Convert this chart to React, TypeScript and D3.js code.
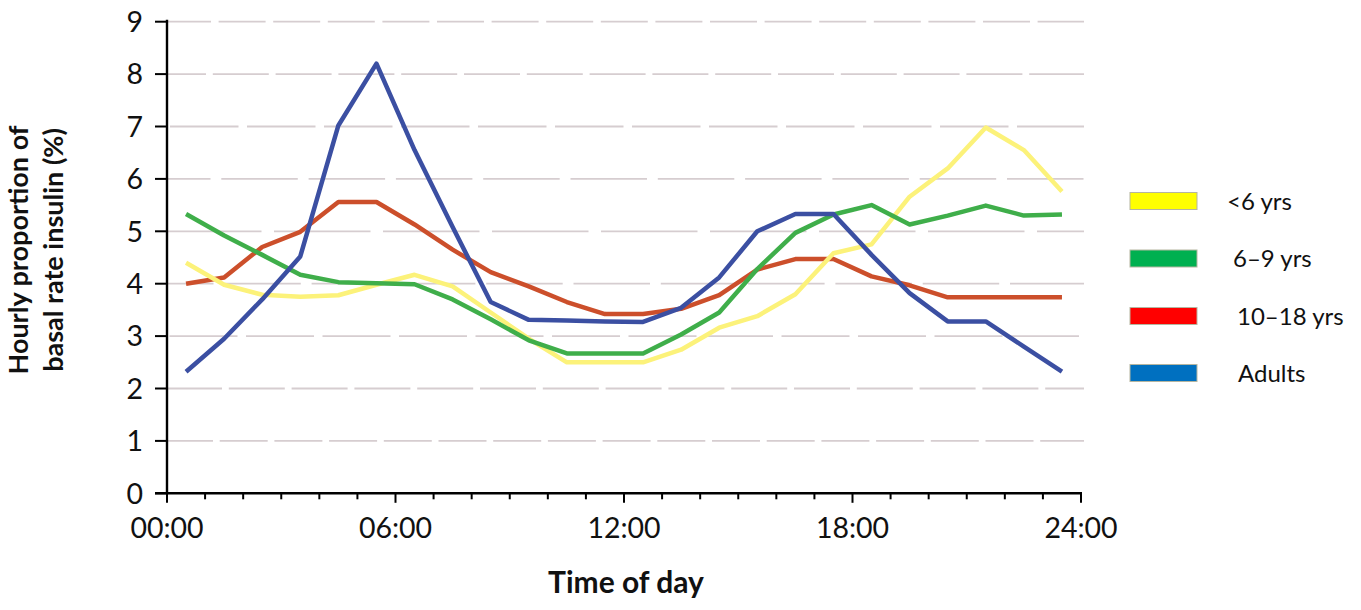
import React from "react";
import * as d3 from "d3";

// ---------- data ----------
const hours = [0.5, 1.5, 2.5, 3.5, 4.5, 5.5, 6.5, 7.5, 8.5, 9.5, 10.5, 11.5, 12.5, 13.5, 14.5, 15.5, 16.5, 17.5, 18.5, 19.5, 20.5, 21.5, 22.5, 23.5];

const under6 = [4.4, 3.98, 3.79, 3.75, 3.78, 3.98, 4.17, 3.95, 3.45, 2.95, 2.5, 2.5, 2.5, 2.74, 3.16, 3.38, 3.8, 4.58, 4.75, 5.66, 6.2, 6.98, 6.55, 5.76];
const sixTo9 = [5.33, 4.92, 4.55, 4.17, 4.03, 4.01, 3.99, 3.7, 3.32, 2.92, 2.67, 2.67, 2.67, 3.03, 3.45, 4.28, 4.97, 5.32, 5.5, 5.13, 5.3, 5.49, 5.3, 5.32];
const tenTo18 = [4.0, 4.12, 4.7, 4.99, 5.56, 5.56, 5.13, 4.65, 4.22, 3.95, 3.65, 3.42, 3.42, 3.52, 3.78, 4.27, 4.47, 4.47, 4.14, 3.97, 3.74, 3.74, 3.74, 3.74];
const adults = [2.32, 2.95, 3.7, 4.52, 7.02, 8.2, 6.55, 5.08, 3.65, 3.31, 3.3, 3.28, 3.27, 3.54, 4.12, 5.0, 5.33, 5.33, 4.55, 3.82, 3.28, 3.28, 2.8, 2.32];

const yTicks = [0, 1, 2, 3, 4, 5, 6, 7, 8, 9];
const xMajorTicks = [0, 6, 12, 18, 24];
const xTickLabels = ["00:00", "06:00", "12:00", "18:00", "24:00"];

const seriesNames = ["<6 yrs", "6–9 yrs", "10–18 yrs", "Adults"];

// ---------- styles ----------
const lineColors = ["#fcf27a", "#3fae4a", "#cc4f2b", "#3b4fa2"];
const legendColors = ["#ffff00", "#00b050", "#ff0000", "#0070c0"];
const drawOrder = [2, 0, 1, 3];
// per-gridline dash [dash, gap, offset] for values 1..9
const gridDash: Record<number, [number, number, number]> = {
  1: [48, 6.7, 2],
  2: [56, 6.8, 1],
  3: [68, 8.5, 74],
  4: [76.5, 10.8, 30],
  5: [96.5, 12.5, 2],
  6: [76.5, 10.8, 33],
  7: [68.5, 8.5, 74],
  8: [56, 6.8, 17],
  9: [47, 7.6, 3],
};

const W = 1361;
const H = 610;
const x0 = 167;
const x1 = 1081;
const yBottom = 493.3;
const yTop = 21.7;

export default function App() {
  const x = d3.scaleLinear().domain([0, 24]).range([x0, x1]);
  const y = d3.scaleLinear().domain([0, 9]).range([yBottom, yTop]);
  const series = [under6, sixTo9, tenTo18, adults];
  const line = d3
    .line<number>()
    .x((_, i) => x(hours[i]))
    .y((d) => y(d))
    .curve(d3.curveLinear);

  const hourTicks = d3.range(0, 25);
  const font = "Lato, 'Open Sans', sans-serif";

  return (
    <svg
      width={W}
      height={H}
      style={{ position: "absolute", left: 0, top: 0, background: "#fff" }}
      fontFamily={font}
    >
      {/* gridlines */}
      {yTicks
        .filter((t) => t > 0)
        .map((t) => {
          const [dsh, gap, off] = gridDash[t];
          return (
            <line
              key={"g" + t}
              x1={x0}
              x2={1084}
              y1={y(t)}
              y2={y(t)}
              stroke="#d6cdd0"
              strokeWidth={1.8}
              strokeDasharray={`${dsh} ${gap}`}
              strokeDashoffset={off}
            />
          );
        })}

      {/* series lines */}
      {drawOrder.map((si) => (
        <path
          key={"s" + si}
          d={line(series[si]) || ""}
          fill="none"
          stroke={lineColors[si]}
          strokeWidth={4.5}
          strokeLinejoin="round"
          strokeLinecap="butt"
        />
      ))}

      {/* y axis */}
      <line x1={x0} x2={x0} y1={yTop - 2} y2={yBottom + 1} stroke="#000" strokeWidth={2.4} />
      {yTicks.map((t) => (
        <g key={"yt" + t}>
          <line x1={x0 - 12} x2={x0} y1={y(t)} y2={y(t)} stroke="#000" strokeWidth={2} />
          <text x={143} y={y(t)} dy="0.36em" textAnchor="end" fontSize={28.5} fill="#111">
            {t}
          </text>
        </g>
      ))}

      {/* x axis */}
      <line x1={x0 - 12} x2={x1 + 1} y1={yBottom} y2={yBottom} stroke="#000" strokeWidth={2.4} />
      {hourTicks.map((h) => {
        const major = xMajorTicks.includes(h);
        return (
          <line
            key={"xt" + h}
            x1={x(h)}
            x2={x(h)}
            y1={yBottom}
            y2={yBottom + (major ? 9.5 : 6)}
            stroke="#000"
            strokeWidth={2}
          />
        );
      })}
      {xMajorTicks.map((h, i) => (
        <text key={"xl" + h} x={x(h)} y={538} textAnchor="middle" fontSize={28.5} fill="#111">
          {xTickLabels[i]}
        </text>
      ))}

      {/* axis titles */}
      <text x={626} y={593} textAnchor="middle" fontSize={30} fontWeight="bold" fill="#111">
        Time of day
      </text>
      <text transform="translate(28,250) rotate(-90)" textAnchor="middle" fontSize={27} fontWeight="bold" fill="#111">
        Hourly proportion of
      </text>
      <text transform="translate(63,250) rotate(-90)" textAnchor="middle" fontSize={27} fontWeight="bold" fill="#111">
        basal rate insulin (%)
      </text>

      {/* legend */}
      {seriesNames.map((name, i) => {
        const cy = [201, 258.5, 316, 373][i];
        const tx = [1227, 1233, 1237, 1238][i];
        return (
          <g key={"lg" + i}>
            <rect x={1130} y={cy - 8.5} width={67} height={17} fill={legendColors[i]} stroke="#b5b5a0" strokeWidth={1} />
            <text x={tx} y={cy + 8.5} fontSize={24} fill="#111">
              {name}
            </text>
          </g>
        );
      })}
    </svg>
  );
}
